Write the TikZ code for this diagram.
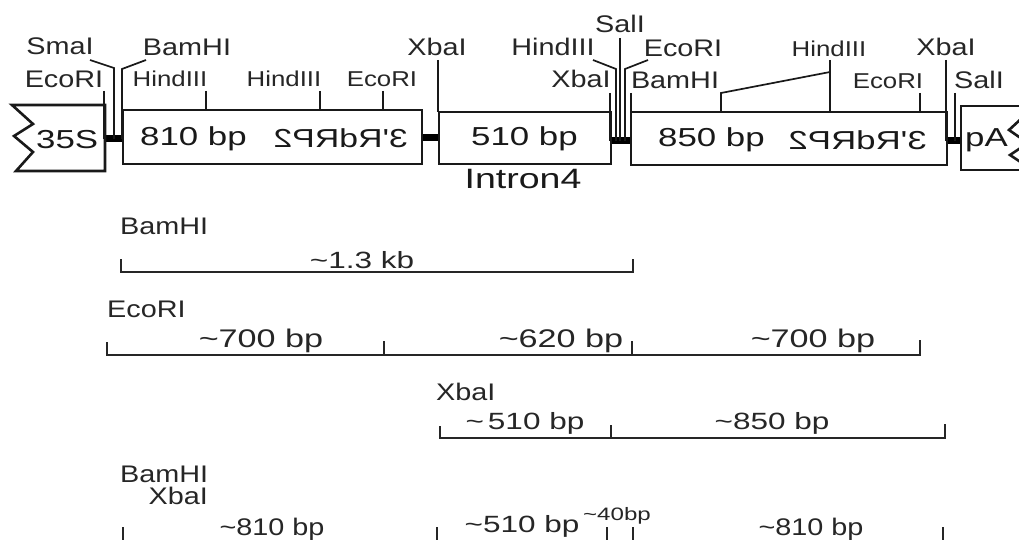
\documentclass[tikz,border=0pt]{standalone}
\usepackage{fontspec}
\usetikzlibrary{calc}
\setmainfont{Liberation Sans}
\newfontfamily\wide[FakeStretch=1.2]{Liberation Sans}
\newfontfamily\wider[FakeStretch=1.34]{Liberation Sans}
\newcommand{\tld}{\symbol{126}}
\tikzset{
  x=1pt,y=-1pt,
  lbl/.style={inner sep=0pt,font=\wide\fontsize{24}{24}\selectfont,text=black!85},
  slbl/.style={inner sep=0pt,font=\wide\fontsize{21.5}{21.5}\selectfont,text=black!85},
  big/.style={inner sep=0pt,font=\wider\fontsize{26}{26}\selectfont,text=black!90},
  intr/.style={inner sep=0pt,font=\wider\fontsize{28}{28}\selectfont,text=black!90},
  spc/.style={inner sep=0pt,font=\wider\fontsize{25.5}{25.5}\selectfont,text=black!85},
  mid/.style={inner sep=0pt,font=\wider\fontsize{23.5}{23.5}\selectfont,text=black!85},
  tiny/.style={inner sep=0pt,font=\wider\fontsize{18}{18}\selectfont,text=black!85},
  box/.style={draw=black!90,line width=2.6pt,fill=white},
  site/.style={draw=black!90,line width=1.7pt},
  link/.style={draw=black,line width=7pt},
  rule/.style={draw=black!85,line width=1.5pt}
}
\begin{document}
\begin{tikzpicture}
\useasboundingbox (0,0) rectangle (1019,540);
% linkers
\coordinate (a0) at (105,139); \coordinate (a1) at (123,139);
\coordinate (b0) at (422,138); \coordinate (b1) at (439,138);
\coordinate (c0) at (611,141); \coordinate (c1) at (631,141);
\coordinate (d0) at (947,141); \coordinate (d1) at (961,141);
\draw[link] (a0)--(a1); \draw[link] (b0)--(b1); \draw[link] (c0)--(c1); \draw[link] (d0)--(d1);
% boxes
\draw[box] (12,105) -- (105,105) -- (105,171) -- (16,171) -- (33,152) -- (14,136) -- (33,124) -- cycle;
\draw[box] (123,110) rectangle (422,164);
\draw[box] (439,112) rectangle (611,164);
\draw[box] (631,112) rectangle (947,165);
\draw[box] (1022,106) -- (961,106) -- (961,170) -- (1022,170);
\draw[box] (1022,118) -- (1009,130) -- (1022,139);
\draw[box] (1022,147) -- (1010,155) -- (1022,163);
% box texts
\node[big,anchor=west] (t35) at (36,140) {35S};
\node[big,anchor=west] (t810) at (140,139) {810 bp};
\node[big,anchor=west,xscale=-0.97] (trd1) at (408,138) {3'RdRP2};
\node[big,anchor=west] (t510) at (471,139) {510 bp};
\node[big,anchor=west] (t850) at (658,140) {850 bp};
\node[big,anchor=west,xscale=-1] (trd2) at (927,140) {3'RdRP2};
\node[big,anchor=west] (tpa) at (965,140) {pA};
\node[intr,anchor=center] (tint) at (523,179) {Intron4};
% sites
\node[lbl,anchor=center] (sma) at (60,46) {SmaI};
\node[lbl,anchor=center] (eco1) at (64,79) {EcoRI};
\node[lbl,anchor=center] (bam1) at (187,47) {BamHI};
\node[slbl,anchor=center] (hin1) at (170,79) {HindIII};
\node[slbl,anchor=center] (hin2) at (284,79) {HindIII};
\node[slbl,anchor=center] (eco2) at (382,79) {EcoRI};
\node[lbl,anchor=center] (xba1) at (437,47) {XbaI};
\node[lbl,anchor=center] (sal1) at (620,24) {SalI};
\node[lbl,anchor=center] (hin3) at (553,47) {HindIII};
\node[lbl,anchor=center] (eco3) at (683,48) {EcoRI};
\node[lbl,anchor=center] (xba2) at (581,79) {XbaI};
\node[lbl,anchor=center] (bam2) at (675,80) {BamHI};
\node[slbl,anchor=center] (hin4) at (829,49) {HindIII};
\node[slbl,anchor=center] (eco4) at (888,81) {EcoRI};
\node[lbl,anchor=center] (xba3) at (946,47) {XbaI};
\node[lbl,anchor=center] (sal2) at (979,80) {SalI};
\draw[site] (104,91) -- (104,139);
\draw[site] (90,60) -- (114,68) -- (114,139);
\draw[site] (146,60) -- (122,69) -- (122,139);
\draw[site] (206,91) -- (206,110);
\draw[site] (320,91) -- (320,110);
\draw[site] (383,91) -- (383,110);
\draw[site] (438,60) -- (438,112);
\draw[site] (610,93) -- (610,141);
\draw[site] (593,60) -- (616,69) -- (616,141);
\draw[site] (620,38) -- (620,141);
\draw[site] (648,60) -- (625,69) -- (625,141);
\draw[site] (631,93) -- (631,141);
\draw[site] (721,112) -- (721,93) -- (830,72);
\draw[site] (830,60) -- (830,112);
\draw[site] (920,93) -- (920,112);
\draw[site] (946,60) -- (946,141);
\draw[site] (955,93) -- (955,141);
% map 1
\node[lbl,anchor=west] (m1) at (120,226) {BamHI};
\node[mid,anchor=center] (m1a) at (362,260) {\tld 1.3 kb};
\coordinate (m1l) at (121,272); \coordinate (m1r) at (633,272);
\draw[rule] (121,259) -- (m1l) -- (m1r) -- (633,259);
% map 2
\node[lbl,anchor=west] (m2) at (107,309) {EcoRI};
\node[spc,anchor=center] (m2a) at (261,341) {\tld 700 bp};
\node[spc,anchor=center] (m2b) at (561,341) {\tld 620 bp};
\node[spc,anchor=center] (m2c) at (813,341) {\tld 700 bp};
\coordinate (m2l) at (107,355); \coordinate (m2m) at (384,355); \coordinate (m2n) at (632,355); \coordinate (m2r) at (920,355);
\draw[rule] (107,342) -- (m2l) -- (m2r) -- (920,340);
\draw[rule] (m2m) -- (384,341);
\draw[rule] (m2n) -- (632,341);
% map 3
\node[lbl,anchor=west] (m3) at (436,392) {XbaI};
\node[mid,anchor=center] (m3a) at (525,423) {\tld\,510 bp};
\node[mid,anchor=center] (m3b) at (772,423) {\tld 850 bp};
\coordinate (m3l) at (440,438); \coordinate (m3m) at (611,438); \coordinate (m3r) at (945,438);
\draw[rule] (440,426) -- (m3l) -- (m3r) -- (945,424);
\draw[rule] (m3m) -- (611,425);
% map 4
\node[lbl,anchor=west] (m4a) at (120,474) {BamHI};
\node[lbl,anchor=east] (m4b) at (208,496) {XbaI};
\node[lbl,anchor=center] (m4c) at (272,529) {\tld 810 bp};
\node[mid,anchor=center] (m4d) at (522,526) {\tld 510 bp};
\node[tiny,anchor=center] (m4e) at (617,516) {\tld 40bp};
\node[lbl,anchor=center] (m4f) at (811,529) {\tld 810 bp};
\coordinate (t1) at (123,540); \coordinate (t2) at (437,540); \coordinate (t3) at (607,540); \coordinate (t4) at (633,540); \coordinate (t5) at (943,540);
\draw[rule] (t1) -- (123,527);
\draw[rule] (t2) -- (437,527);
\draw[rule] (t3) -- (607,527);
\draw[rule] (t4) -- (633,527);
\draw[rule] (t5) -- (943,527);
\end{tikzpicture}
\end{document}
